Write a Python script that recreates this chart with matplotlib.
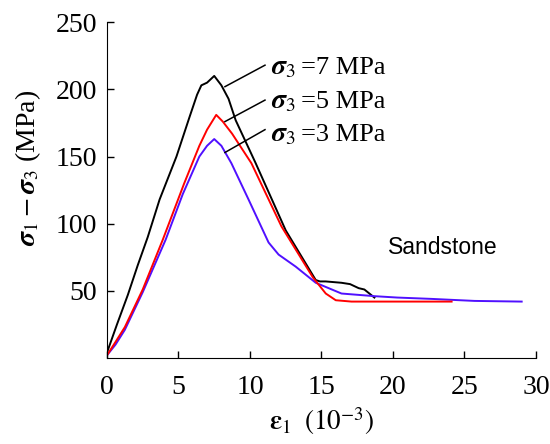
import matplotlib
matplotlib.use("Agg")
import matplotlib.pyplot as plt

plt.rcParams['font.family'] = ['Liberation Serif', 'DejaVu Serif']
plt.rcParams['mathtext.fontset'] = 'stix'

# strain (10^-3) and deviatoric stress (MPa)
x_7 = [0.0, 0.7, 1.46, 2.15, 2.85, 3.68, 4.86, 5.76, 6.3, 6.6, 7.0, 7.5, 8.0, 8.5, 9.0, 10.4, 12.5, 14.6, 14.9, 15.3, 16.4, 17.0, 17.6, 18.0, 18.7]
y_7 = [4, 25, 47, 69, 90, 118, 150, 179, 196, 203, 205, 210, 203, 193, 177, 145, 95, 58, 57, 57, 56, 55, 52, 51, 45]

x_5 = [0.0, 0.6, 1.25, 2.5, 3.9, 5.4, 6.46, 7.0, 7.64, 8.1, 8.75, 10.1, 12.2, 14.4, 15.3, 16.0, 17.1, 20.0, 24.1]
y_5 = [2, 12, 23, 51, 88, 130, 158, 170, 181, 176, 167, 145, 98, 60, 48, 43, 42, 42, 42]

x_3 = [0.0, 0.6, 1.25, 2.5, 4.1, 5.3, 6.46, 7.0, 7.5, 8.0, 8.7, 9.9, 11.3, 12.0, 13.2, 14.6, 16.4, 18.75, 20.3, 22.7, 25.7, 29.0]
y_3 = [2, 10, 21, 49, 88, 122, 150, 158, 163, 158, 145, 118, 86, 77, 68, 56, 48, 46, 45, 44, 42.5, 42]

label_sigma = r'$\boldsymbol{\sigma}_3$'
label_vals = ['=7 MPa', '=5 MPa', '=3 MPa']
xticks = [0, 5, 10, 15, 20, 25, 30]
yticks = [50, 100, 150, 200, 250]

fig = plt.figure(figsize=(5.5, 4.44), dpi=100)
ax = fig.add_axes([0.1945, 0.1937, 0.78, 0.7563])

ax.plot(x_7, y_7, color='black', lw=1.4)
ax.plot(x_3, y_3, color='#5010ff', lw=1.4)
ax.plot(x_5, y_5, color='#ff0000', lw=1.4)

ax.set_xlim(0, 30)
ax.set_ylim(0, 250)
ax.set_xticks(xticks)
ax.set_yticks(yticks)
ax.tick_params(direction='in', labelsize=20, length=5, width=1)
ax.tick_params(axis='x', pad=12)
ax.tick_params(axis='y', pad=7)
for s in ['top', 'right']:
    ax.spines[s].set_visible(False)

# annotations with leader lines
ann = [((8.25, 202), (11.05, 218), 216), ((8.25, 176), (11.05, 192), 190.6), ((8.25, 153), (11.05, 170), 166)]
for val, (p0, p1, ty) in zip(label_vals, ann):
    ax.plot([p0[0], p1[0]], [p0[1], p1[1]], color='black', lw=1.1)
    ax.text(11.5, ty, label_sigma, fontsize=20, va='center', ha='left')
    ax.text(13.6, ty, val, fontsize=19, va='center', ha='left')

ax.text(23.5, 82, 'Sandstone', family='Liberation Sans', fontsize=16.5, ha='center', va='center')

ax.set_ylabel(r'$\boldsymbol{\sigma}_1-\boldsymbol{\sigma}_3$ (MPa)', fontsize=20)
ax.yaxis.set_label_coords(-0.15, 0.565)
ax.set_xlabel(r'$\boldsymbol{\varepsilon}_1\;$ $(10^{-3})$', fontsize=19.5)
ax.xaxis.set_label_coords(0.5, -0.14)

fig.savefig('out.png', dpi=100)
